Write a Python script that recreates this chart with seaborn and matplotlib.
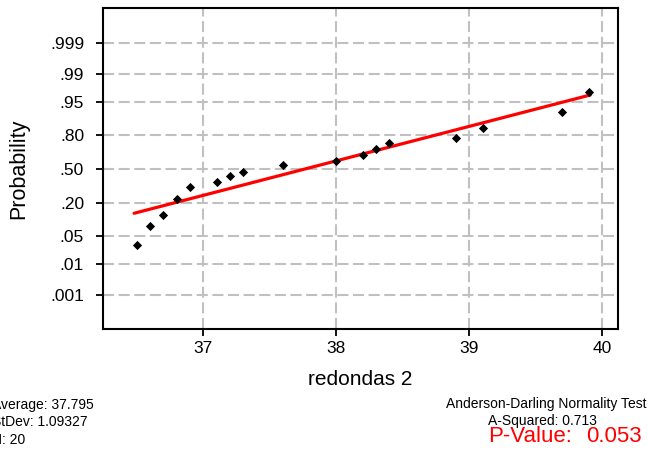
import numpy as np
import matplotlib
matplotlib.use("Agg")
import matplotlib.pyplot as plt
from matplotlib.ticker import NullLocator, FixedLocator
import seaborn as sns
from statistics import NormalDist

# ---- data ----
x_values = [36.5, 36.6, 36.7, 36.8, 36.9, 37.1, 37.2, 37.3, 37.6, 38.0,
            38.2, 38.3, 38.4, 38.9, 39.1, 39.7, 39.9]
prob_values = [0.031, 0.0825, 0.1285, 0.229, 0.327, 0.378, 0.435, 0.474, 0.536, 0.575,
               0.634, 0.685, 0.738, 0.778, 0.842, 0.920, 0.971]
fit_x = [36.48, 39.91]
fit_p = [0.139, 0.965]

y_ticks = [0.001, 0.01, 0.05, 0.20, 0.50, 0.80, 0.95, 0.99, 0.999]
y_tick_labels = [".001", ".01", ".05", ".20", ".50", ".80", ".95", ".99", ".999"]
x_ticks = [37, 38, 39, 40]
x_tick_labels = ["37", "38", "39", "40"]

x_label = "redondas 2"
y_label = "Probability"
stats_left = ["Average: 37.795", "StDev: 1.09327", "N: 20"]
test_title = "Anderson-Darling Normality Test"
a_squared = "A-Squared: 0.713"
p_label = "P-Value:"
p_value = "0.053"

# ---- probit scale ----
_nd = NormalDist()


def _ppf(v):
    if not np.isfinite(v):
        return np.nan
    v = min(max(v, 1e-15), 1 - 1e-15)
    return _nd.inv_cdf(v)


def _cdf(z):
    if np.isnan(z):
        return np.nan
    return _nd.cdf(z)


fwd = np.vectorize(_ppf, otypes=[float])
inv = np.vectorize(_cdf, otypes=[float])

sns.set_theme(style="white")
plt.rcParams["font.family"] = ["Liberation Sans", "DejaVu Sans"]

fig = plt.figure(figsize=(6.48, 4.5), dpi=100)
ax = fig.add_axes([0.1597, 0.2689, 0.9532 - 0.1597, 0.9816 - 0.2689])

sns.lineplot(x=fit_x, y=fit_p, color="red", linewidth=2.3, ax=ax, zorder=3)
sns.scatterplot(x=x_values, y=prob_values, marker="D", color="black", s=22,
                linewidth=0, ax=ax, zorder=4)

ax.set_yscale("function", functions=(fwd, inv))
ax.set_ylim(_nd.cdf(-3.918), _nd.cdf(3.935))
ax.set_xlim(36.25, 40.116)

ax.yaxis.set_major_locator(FixedLocator(y_ticks))
ax.set_yticklabels(y_tick_labels)
ax.yaxis.set_minor_locator(NullLocator())
ax.set_xticks(x_ticks)
ax.set_xticklabels(x_tick_labels)
ax.xaxis.set_minor_locator(NullLocator())

ax.set_axisbelow(True)
ax.grid(True, color="#c0c0c0", linestyle=(0, (5.3, 2.2)), linewidth=1.5)

for s in ax.spines.values():
    s.set_color("black")
    s.set_linewidth(1.5)

ax.tick_params(axis="both", which="major", direction="out", length=5, width=1.3,
               color="black", labelsize=12.5, labelcolor="black", left=True, bottom=True)
ax.tick_params(axis="y", pad=9)
ax.tick_params(axis="x", pad=4)

ax.set_xlabel(x_label, fontsize=15, color="black", labelpad=10)
ax.set_ylabel(y_label, fontsize=15.5, color="black", labelpad=15)

# bottom annotations
for i, t in enumerate(stats_left):
    fig.text(-8.5 / 648, 1 - (405 + 17.5 * i) / 450, t, fontsize=10,
             ha="left", va="center", color="black")
fig.text(646 / 648, 1 - 404 / 450, test_title, fontsize=10, ha="right", va="center",
         color="black")
fig.text(542 / 648, 1 - 421.5 / 450, a_squared, fontsize=10, ha="center", va="center",
         color="black")
fig.text(488 / 648, 1 - 436 / 450, p_label, fontsize=16, ha="left", va="center",
         color="red")
fig.text(642 / 648, 1 - 436 / 450, p_value, fontsize=16, ha="right", va="center",
         color="red")

fig.savefig("out.png", dpi=100, facecolor="white")
